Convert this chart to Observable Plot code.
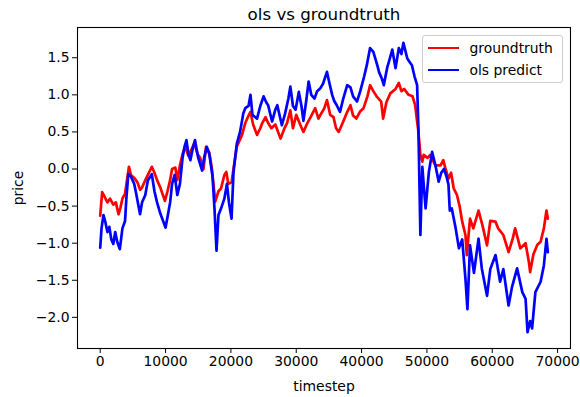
<!DOCTYPE html>
<html>
<head>
<meta charset="utf-8">
<script src="https://cdn.jsdelivr.net/npm/d3@7"></script>
<script src="https://cdn.jsdelivr.net/npm/@observablehq/plot@0.6"></script>
<style>
  html, body { margin: 0; padding: 0; background: #fff; }
  #wrap { position: relative; width: 580px; height: 397px; font-family: "DejaVu Sans", sans-serif; }
  #legend { position: absolute; left: 421.5px; top: 35px; width: 139px; height: 46px;
            border: 1px solid #cccccc; border-radius: 3px; background: rgba(255,255,255,0.8);
            font-size: 13.9px; color: #000; }
  .item { position: absolute; left: 0; height: 20px; width: 100%; }
  .swatch { position: absolute; left: 5px; width: 31px; height: 2px; top: 9px; }
  .label { position: absolute; left: 47px; top: 0; line-height: 20px; white-space: nowrap; }
</style>
</head>
<body>
<div id="wrap"></div>
<script>
const chartTitle = "ols vs groundtruth";
const seriesNames = ["groundtruth", "ols predict"];
const seriesColors = ["#ff0000", "#0000ff"];
const xTicks = [0, 10000, 20000, 30000, 40000, 50000, 60000, 70000];
const yTicks = [-2.0, -1.5, -1.0, -0.5, 0.0, 0.5, 1.0, 1.5];

const timestepGT = [0,300,700,1100,1500,2000,2400,2800,3100,3400,3800,4400,4700,5200,5700,6100,6400,6900,7300,7900,8300,8700,9200,9900,10300,10700,11000,11500,11800,12200,12600,13000,13500,13900,14400,14900,15300,15800,16200,16700,17100,17600,18100,18500,19000,19300,19600,20100,20400,20900,21400,21700,22200,22700,23000,23400,24000,24500,24800,25300,25700,26200,26800,27600,28200,28600,29100,29500,30000,30600,31100,31700,32200,32900,33400,33700,34300,34700,35200,35700,36100,36500,37100,37700,38300,38700,39200,39800,40300,40900,41300,41800,42300,43000,43300,43800,44400,45200,45700,46100,46500,47200,47800,48200,48700,49000,49300,49500,50100,50500,51300,52100,52500,52800,53300,53700,54100,54600,55000,55400,55900,56100,56600,57100,57900,58500,59200,59700,60500,60900,61700,62500,63100,63500,64300,65100,65600,65800,66300,66900,67400,67900,68300,68500];
const groundtruth = [-0.63,-0.31,-0.38,-0.45,-0.40,-0.48,-0.45,-0.61,-0.52,-0.40,-0.33,0.03,-0.08,-0.12,-0.18,-0.28,-0.25,-0.15,-0.08,0.03,-0.05,-0.15,-0.25,-0.43,-0.30,-0.15,0.0,0.02,-0.15,0.05,0.20,0.30,0.18,0.25,0.35,0.20,0.15,0.0,0.30,0.22,0.0,-0.44,-0.30,-0.26,-0.08,-0.04,-0.20,-0.18,0.0,0.30,0.40,0.46,0.62,0.72,0.77,0.60,0.46,0.55,0.62,0.70,0.62,0.55,0.60,0.41,0.55,0.62,0.79,0.55,0.73,0.60,0.50,0.62,0.70,0.82,0.68,0.73,0.82,0.93,0.73,0.70,0.55,0.50,0.62,0.75,0.86,0.72,0.68,0.78,0.82,0.98,1.13,1.05,0.98,0.91,0.68,0.90,1.02,1.08,1.16,1.05,1.08,1.00,0.98,0.86,0.50,0.19,0.10,0.19,0.15,0.19,0.05,0.05,0.12,0.02,-0.13,-0.05,-0.26,-0.35,-0.50,-0.71,-0.89,-1.16,-0.67,-0.80,-0.56,-0.76,-1.03,-0.70,-0.71,-0.80,-0.89,-1.12,-0.95,-0.80,-1.07,-1.00,-1.25,-1.39,-1.15,-1.02,-0.98,-0.80,-0.56,-0.67];

const timestepOLS = [0,200,500,800,1100,1400,1700,2000,2300,2600,3000,3400,3800,4000,4300,4700,5200,5500,6100,6400,6900,7300,7900,8300,8700,9200,10000,10400,10700,11000,11400,11800,12200,12600,12900,13200,13500,13800,14100,14500,15000,15600,15900,16300,16700,17200,17500,17800,18100,18500,19000,19400,19700,20100,20400,20900,21400,21900,22200,22700,23000,23300,24000,24500,25000,25400,25700,26300,26800,27100,27800,28300,28800,29100,29500,29900,30400,30800,31100,31500,31900,32300,32800,33200,33700,34100,34700,35100,35500,35800,36200,36700,37200,37800,38300,38700,39300,39800,40100,40400,40800,41300,41800,42400,42700,43100,43400,43900,44200,44700,45200,45700,46100,46400,47000,47300,47700,48100,48500,48700,49000,49300,49500,49800,50300,50800,51300,51800,52200,52600,53000,53300,53500,53800,54400,54900,55400,55900,56200,56600,57200,57900,58400,59200,59700,60500,61200,61700,62500,63000,63800,64600,65100,65400,65800,66100,66600,67400,67900,68300,68500];
const olsPredict = [-1.06,-0.80,-0.62,-0.72,-0.85,-0.78,-0.95,-1.01,-0.85,-0.98,-1.08,-0.80,-0.70,-0.40,-0.07,-0.10,-0.20,-0.33,-0.61,-0.45,-0.35,-0.15,-0.07,-0.30,-0.45,-0.60,-0.79,-0.60,-0.45,-0.20,-0.08,-0.35,-0.20,0.15,0.30,0.39,0.20,0.12,0.25,0.39,0.15,-0.02,0.15,0.30,0.20,-0.11,-0.55,-1.10,-0.62,-0.53,-0.40,-0.20,-0.45,-0.67,-0.04,0.34,0.50,0.75,0.82,0.85,1.00,0.73,0.68,0.85,0.98,0.90,0.86,0.64,0.80,0.86,0.59,0.75,0.95,1.11,0.85,0.80,1.04,0.85,0.65,0.90,1.18,1.00,0.95,1.05,1.09,1.15,1.31,1.15,1.00,0.92,0.86,0.77,0.95,1.13,1.10,0.98,0.91,1.05,1.15,1.25,1.40,1.63,1.58,1.40,1.30,1.22,1.13,1.36,1.45,1.61,1.36,1.63,1.55,1.70,1.49,1.45,1.40,1.25,1.13,0.55,-0.89,0.03,-0.20,-0.53,-0.04,0.23,0.05,-0.17,-0.05,0.0,-0.10,-0.21,-0.56,-0.53,-0.80,-1.07,-0.95,-1.48,-1.89,-1.03,-1.40,-0.94,-1.34,-1.71,-1.35,-1.16,-1.52,-1.35,-1.84,-1.60,-1.34,-1.66,-1.75,-2.20,-2.05,-2.15,-1.66,-1.52,-1.30,-0.94,-1.12];

const rows = [
  ...timestepGT.map((t, i) => ({t, v: groundtruth[i], series: seriesNames[0]})),
  ...timestepOLS.map((t, i) => ({t, v: olsPredict[i], series: seriesNames[1]}))
];

const chart = Plot.plot({
  width: 580,
  height: 397,
  marginLeft: 77,
  marginRight: 10,
  marginTop: 27,
  marginBottom: 49,
  style: {fontFamily: "DejaVu Sans, sans-serif", fontSize: "13.9px", color: "#000", background: "#fff", overflow: "visible"},
  x: {domain: [-3476, 71975], ticks: xTicks, tickFormat: d => String(d), tickSize: 5, tickPadding: 3,
      label: "timestep", labelAnchor: "center", labelArrow: "none", labelOffset: 42},
  y: {domain: [-2.42, 1.908], ticks: yTicks, tickFormat: d3.format(".1f"), tickSize: 5, tickPadding: 3,
      label: "price", labelAnchor: "center", labelArrow: "none", labelOffset: 64},
  color: {domain: seriesNames, range: seriesColors},
  marks: [
    Plot.line(rows, {x: "t", y: "v", z: "series", stroke: "series", strokeWidth: 2.7, strokeLinejoin: "round"}),
    Plot.frame({stroke: "#000", strokeWidth: 1.1}),
    Plot.text([chartTitle], {frameAnchor: "top", dy: -13, lineAnchor: "middle", fontSize: 16.7})
  ]
});
const wrap = document.getElementById("wrap");
wrap.appendChild(chart);

const legend = document.createElement("div");
legend.id = "legend";
seriesNames.forEach((name, i) => {
  const item = document.createElement("div");
  item.className = "item";
  item.style.top = (2 + i * 22.4) + "px";
  const sw = document.createElement("div");
  sw.className = "swatch";
  sw.style.background = seriesColors[i];
  const lb = document.createElement("div");
  lb.className = "label";
  lb.textContent = name;
  item.appendChild(sw);
  item.appendChild(lb);
  legend.appendChild(item);
});
wrap.appendChild(legend);
</script>
</body>
</html>
